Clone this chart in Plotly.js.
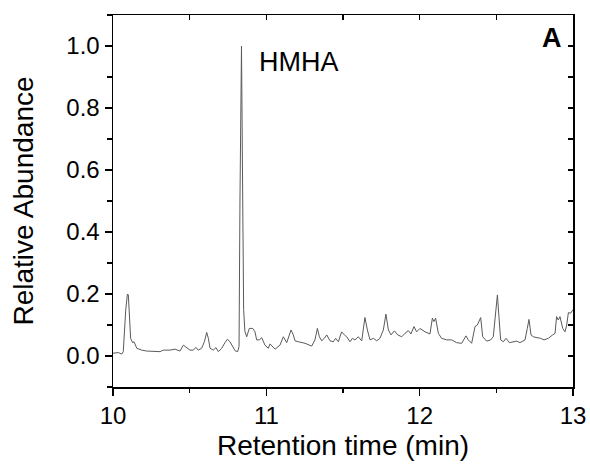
<!DOCTYPE html>
<html>
<head>
<meta charset="utf-8">
<script src="https://cdn.plot.ly/plotly-3.0.1.min.js"></script>
<style>html,body{margin:0;padding:0;background:#fff;}</style>
</head>
<body>
<div id="chart" style="width:590px;height:475px;"></div>
<script>
// Retention time (min)
const time = [
 10.000,10.035,10.057,10.067,10.083,10.094,10.100,10.106,10.115,10.128,10.137,10.155,10.187,10.220,10.263,10.307,10.328,10.372,10.404,10.437,
 10.459,10.480,10.502,10.524,10.541,10.556,10.578,10.596,10.611,10.622,10.633,10.654,10.672,10.687,10.709,10.730,10.746,10.763,10.780,10.796,
 10.813,10.822,10.828,10.838,10.846,10.852,10.860,10.872,10.889,10.911,10.926,10.937,10.954,10.970,10.991,11.013,11.024,11.057,11.089,11.111,
 11.133,11.161,11.176,11.187,11.209,11.252,11.296,11.317,11.333,11.346,11.361,11.378,11.394,11.415,11.437,11.452,11.470,11.491,11.509,11.524,
 11.546,11.561,11.578,11.600,11.622,11.643,11.659,11.676,11.698,11.720,11.741,11.763,11.780,11.796,11.813,11.835,11.857,11.883,11.904,11.926,
 11.943,11.963,11.980,12.002,12.035,12.067,12.083,12.093,12.104,12.122,12.143,12.176,12.209,12.241,12.274,12.302,12.317,12.339,12.361,12.376,
 12.398,12.411,12.437,12.463,12.480,12.491,12.507,12.517,12.528,12.546,12.563,12.585,12.611,12.633,12.654,12.687,12.702,12.713,12.726,12.741,
 12.767,12.789,12.811,12.839,12.867,12.883,12.893,12.904,12.915,12.933,12.948,12.959,12.970,12.985,13.000
];
// Relative abundance
const abundance = [
 0.009,0.011,0.006,0.014,0.148,0.200,0.197,0.127,0.057,0.043,0.046,0.025,0.019,0.016,0.014,0.014,0.019,0.019,0.022,0.016,
 0.035,0.028,0.019,0.019,0.028,0.019,0.025,0.046,0.076,0.057,0.025,0.019,0.027,0.014,0.025,0.043,0.054,0.046,0.030,0.017,
 0.014,0.030,0.500,1.000,0.500,0.150,0.080,0.062,0.089,0.089,0.078,0.052,0.052,0.059,0.035,0.025,0.039,0.022,0.035,0.062,
 0.043,0.084,0.068,0.049,0.046,0.041,0.032,0.052,0.089,0.062,0.049,0.057,0.068,0.049,0.046,0.057,0.046,0.078,0.068,0.062,
 0.046,0.057,0.052,0.062,0.049,0.124,0.084,0.052,0.057,0.049,0.057,0.084,0.135,0.084,0.068,0.081,0.068,0.062,0.073,0.082,
 0.071,0.095,0.078,0.089,0.078,0.071,0.122,0.111,0.122,0.073,0.057,0.052,0.052,0.043,0.041,0.065,0.052,0.041,0.095,0.100,
 0.124,0.062,0.048,0.052,0.062,0.127,0.197,0.127,0.052,0.046,0.057,0.043,0.046,0.048,0.043,0.052,0.089,0.118,0.068,0.062,
 0.059,0.057,0.052,0.057,0.068,0.073,0.127,0.116,0.127,0.089,0.078,0.100,0.140,0.138,0.150
];
const xTicks = [10, 11, 12, 13];
const xTickText = ['10', '11', '12', '13'];
const yTicks = [0.0, 0.2, 0.4, 0.6, 0.8, 1.0];
const yTickText = ['0.0', '0.2', '0.4', '0.6', '0.8', '1.0'];
const xRange = [10, 13];
const yRange = [-0.1, 1.1];

const FONT = 'Liberation Sans, Arial, sans-serif';

const traces = [
  {x: time, y: abundance, type: 'scatter', mode: 'lines',
   line: {color: '#5a5a5a', width: 1}, showlegend: false, hoverinfo: 'skip'},
  {x: time, y: abundance, type: 'scatter', mode: 'lines', xaxis: 'x2', yaxis: 'y2',
   opacity: 0, line: {color: '#5a5a5a', width: 1}, showlegend: false, hoverinfo: 'skip'}
];

const axBase = {linecolor: '#000', linewidth: 1.5, showgrid: false, zeroline: false,
  tickcolor: '#000', tickwidth: 1.5};

const layout = {
  width: 590, height: 475,
  margin: {l: 113, r: 17, t: 15, b: 88},
  paper_bgcolor: '#fff', plot_bgcolor: '#fff',
  font: {family: FONT, color: '#000'},
  xaxis: Object.assign({}, axBase, {
    range: xRange, tickmode: 'array', tickvals: xTicks, ticktext: xTickText,
    ticks: 'outside', ticklen: 7,
    minor: {dtick: 0.5, tick0: 10, ticks: 'outside', ticklen: 4, tickcolor: '#000', tickwidth: 1.5},
    tickfont: {family: FONT, size: 24, color: '#000'},
    title: {text: 'Retention time (min)', font: {family: FONT, size: 28, color: '#000'}, standoff: 7}
  }),
  yaxis: Object.assign({}, axBase, {
    range: yRange, tickmode: 'array', tickvals: yTicks, ticktext: yTickText,
    ticks: 'outside', ticklen: 7,
    minor: {dtick: 0.1, tick0: 0, ticks: 'outside', ticklen: 5, tickcolor: '#000', tickwidth: 1.5},
    tickfont: {family: FONT, size: 24, color: '#000'},
    title: {text: 'Relative Abundance', font: {family: FONT, size: 28, color: '#000'}, standoff: 24}
  }),
  xaxis2: Object.assign({}, axBase, {
    overlaying: 'x', side: 'top', anchor: 'y2', range: xRange,
    tickmode: 'array', tickvals: xTicks, ticks: 'inside', ticklen: 5, showticklabels: false,
    minor: {dtick: 0.5, tick0: 10, ticks: 'inside', ticklen: 5, tickcolor: '#000', tickwidth: 1.5}
  }),
  yaxis2: Object.assign({}, axBase, {
    overlaying: 'y', side: 'right', anchor: 'x2', range: yRange,
    tickmode: 'array', tickvals: yTicks, ticks: 'inside', ticklen: 5, showticklabels: false,
    minor: {dtick: 0.1, tick0: 0, ticks: 'inside', ticklen: 5, tickcolor: '#000', tickwidth: 1.5}
  }),
  annotations: [
    {text: 'HMHA', xref: 'x', yref: 'y', x: 10.94, y: 0.95, xanchor: 'left', yanchor: 'middle',
     showarrow: false, font: {family: FONT, size: 27, color: '#000'}},
    {text: '<b>A</b>', xref: 'paper', yref: 'paper', x: 0.98, y: 0.985, xanchor: 'right', yanchor: 'top',
     showarrow: false, font: {family: FONT, size: 27, color: '#000'}}
  ]
};

Plotly.newPlot('chart', traces, layout, {displayModeBar: false, staticPlot: true});
</script>
</body>
</html>
